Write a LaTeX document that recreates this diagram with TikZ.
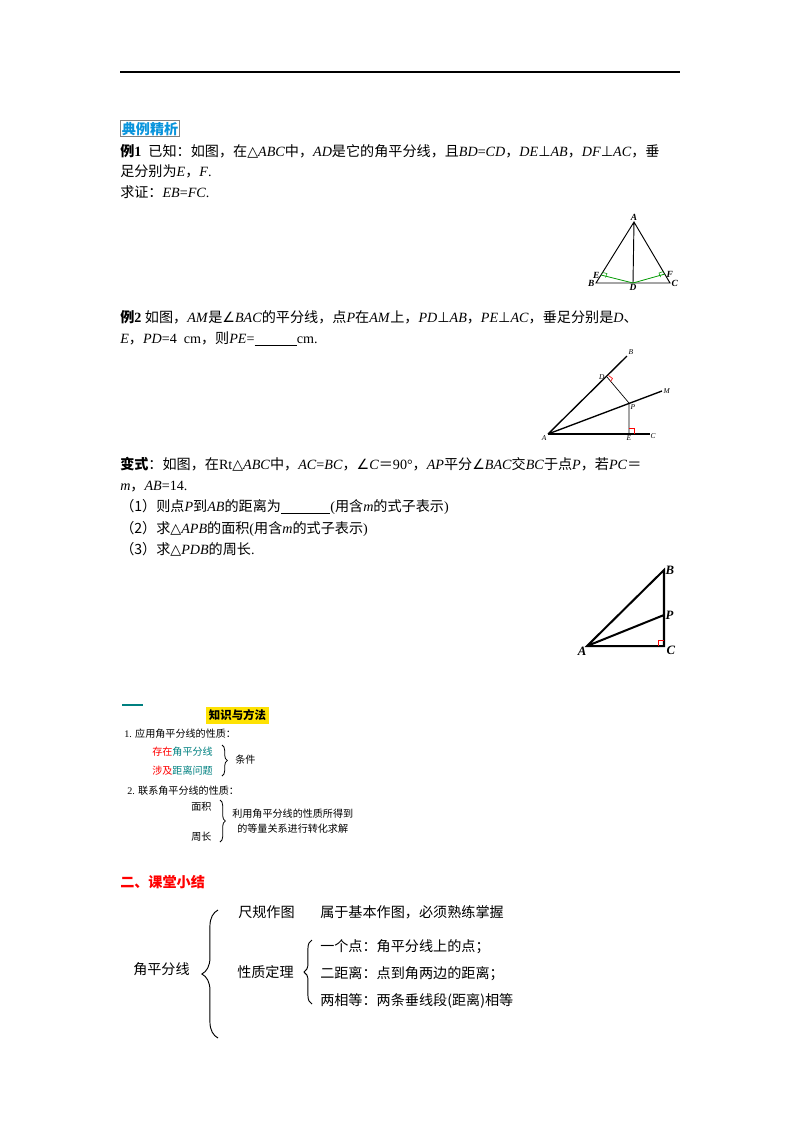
\documentclass[tikz,border=0pt]{standalone}
\usepackage{fontspec}
\setmainfont{Liberation Serif}
\newfontfamily\cjk{Noto Sans CJK SC}
\newfontfamily\symf{DejaVu Sans}
\newcommand{\tri}{{\symf △}}
\newcommand{\ang}{{\symf ∠}}
\newcommand{\perpx}{{\symf ⊥}}
\usetikzlibrary{decorations.pathreplacing}
\begin{document}
\begin{tikzpicture}[x=0.744pt,y=-0.744pt,
  txt/.style={anchor=base west,inner sep=0,font=\fontsize{10.5}{12}\selectfont},
  sm/.style={anchor=base west,inner sep=0,font=\fontsize{7.5}{9}\selectfont},
  lab/.style={inner sep=1pt,font=\fontsize{7}{8}\selectfont\bfseries\itshape},
  lab2/.style={inner sep=1pt,font=\fontsize{5.5}{6}\selectfont\itshape},
  ra/.style={red,line width=0.5pt}]
\useasboundingbox (0,0) rectangle (800,1132);
\draw[line width=0.8pt] (120,72) -- (680,72);
% heading box
\node[draw=gray,line width=0.8pt,inner sep=1pt,anchor=north west,font=\fontsize{10.5}{12}\selectfont\cjk\bfseries,text=cyan!80!blue] (hd) at (120,120) {典例精析};
\node[txt] (l1) at (120,156) {{\cjk\bfseries 例}\textbf{1} \ {\cjk 已知：如图，在}\tri\textit{ABC}{\cjk 中，}\textit{AD}{\cjk 是它的角平分线，且}\textit{BD}=\textit{CD}{\cjk ，}\textit{DE}\perpx\textit{AB}{\cjk ，}\textit{DF}\perpx\textit{AC}{\cjk ，垂}};
\node[txt] (l2) at (120,176) {{\cjk 足分别为}\textit{E}{\cjk ，}\textit{F}.};
\node[txt] (l3) at (120,197) {{\cjk 求证：}\textit{EB}=\textit{FC}.};
% figure 1
\coordinate (A1) at (634,222); \coordinate (B1) at (596,283); \coordinate (C1) at (670,283); \coordinate (D1) at (633,283);
\coordinate (E1) at (601,275); \coordinate (F1) at (665,274);
\draw[line width=0.7pt] (A1)--(B1)--(C1)--cycle (A1)--(D1);
\draw[green!60!black,line width=0.6pt] (E1)--(D1)--(F1);
\draw[green!60!black,line width=0.4pt] (602.5,272.5)--(607,273.5)--(605.5,277.5);
\draw[green!60!black,line width=0.4pt] (663.5,271.5)--(659,273)--(660.5,277);
\node[lab,above] (lA1) at (A1) {A};
\node[lab,left] (lB1) at (B1) {B};
\node[lab,right] (lC1) at (C1) {C};
\node[lab,below] (lD1) at (D1) {D};
\node[lab,left] (lE1) at (E1) {E};
\node[lab,right] (lF1) at (F1) {F};
% example 2
\node[txt] (m1) at (120,322) {{\cjk\bfseries 例}\textbf{2} {\cjk 如图，}\textit{AM}{\cjk 是}\ang\textit{BAC}{\cjk 的平分线，点}\textit{P}{\cjk 在}\textit{AM}{\cjk 上，}\textit{PD}\perpx\textit{AB}{\cjk ，}\textit{PE}\perpx\textit{AC}{\cjk ，垂足分别是}\textit{D}{\cjk 、}};
\node[txt] (m2) at (120,343) {\textit{E}{\cjk ，}\textit{PD}=4\ \ cm{\cjk ，则}\textit{PE}=\underline{\hspace{3em}}cm.};
\coordinate (A2) at (548,434); \coordinate (B2) at (627,356); \coordinate (M2) at (662,391);
\coordinate (C2) at (650,434); \coordinate (D2) at (607,377); \coordinate (P2) at (629,403); \coordinate (E2) at (629,434);
\draw[line width=1pt] (A2)--(B2) (A2)--(M2);
\draw[line width=1.4pt] (A2)--(C2);
\draw[line width=0.5pt] (D2)--(P2)--(E2);
\draw[ra] (608.5,375.5)--(612.5,378.5)--(610.5,381.5);
\draw[ra] (629,428)--(634,428)--(634,434);
\node[lab2,above right] (lB2) at (B2) {B};
\node[lab2,right] (lM2) at (M2) {M};
\node[lab2,below right] (lC2) at (649,432) {C};
\node[lab2,left] (lD2) at (606,377) {D};
\node[lab2,right] (lP2) at (629,407) {P};
\node[lab2,below] (lE2) at (E2) {E};
\node[lab2,below left] (lA2) at (A2) {A};
% variant
\node[txt] (v1) at (120,469) {{\cjk\bfseries 变式}{\cjk ：如图，在}Rt\tri\textit{ABC}{\cjk 中，}\textit{AC}=\textit{BC}{\cjk ，}\ang\textit{C}{\cjk ＝}90°{\cjk ，}\textit{AP}{\cjk 平分}\ang\textit{BAC}{\cjk 交}\textit{BC}{\cjk 于点}\textit{P}{\cjk ，若}\textit{PC}{\cjk ＝}};
\node[txt] (v2) at (120,490) {\textit{m}{\cjk ，}\textit{AB}=14.};
\node[txt] (v3) at (120,511) {{\cjk （1）则点}\textit{P}{\cjk 到}\textit{AB}{\cjk 的距离为}\underline{\hspace{3.5em}}({\cjk 用含}\textit{m}{\cjk 的式子表示})};
\node[txt] (v4) at (120,533) {{\cjk （2）求}\tri\textit{APB}{\cjk 的面积}({\cjk 用含}\textit{m}{\cjk 的式子表示})};
\node[txt] (v5) at (120,554) {{\cjk （3）求}\tri\textit{PDB}{\cjk 的周长}.};
\coordinate (A3) at (587,646); \coordinate (B3) at (664,570); \coordinate (C3) at (664,646); \coordinate (P3) at (664,615);
\draw[line width=1.5pt] (A3)--(B3)--(C3)--cycle (A3)--(P3);
\draw[ra] (664,640)--(658,640)--(658,646);
\node[lab,right,font=\fontsize{9.5}{10}\selectfont\bfseries\itshape] (lB3) at (B3) {B};
\node[lab,right,font=\fontsize{9.5}{10}\selectfont\bfseries\itshape] (lP3) at (P3) {P};
\node[lab,right,font=\fontsize{9.5}{10}\selectfont\bfseries\itshape] (lC3) at (665,650) {C};
\node[lab,left,font=\fontsize{9.5}{10}\selectfont\bfseries\itshape] (lA3) at (588,651) {A};
% knowledge
\draw[teal,line width=1pt] (122,705)--(143,705);
\node[fill=yellow!85!orange,inner sep=2pt,anchor=north west,font=\fontsize{8.5}{10}\selectfont\cjk\bfseries] (kb) at (206,707) {知识与方法};
\node[sm] (k1) at (124,737) {1. {\cjk 应用角平分线的性质：}};
\node[sm] (k2) at (152,755) {{\cjk\color{red}存在}{\cjk\color{teal}角平分线}};
\node[sm] (k3) at (152,774) {{\cjk\color{red}涉及}{\cjk\color{teal}距离问题}};
\draw[decorate,decoration={brace,amplitude=4pt},line width=0.6pt] (222,745)--(222,776);
\node[sm] (k4) at (235,763) {\cjk 条件};
\node[sm] (k5) at (127,794) {2. {\cjk 联系角平分线的性质：}};
\node[sm] (k6) at (191,810) {\cjk 面积};
\node[sm] (k7) at (191,840) {\cjk 周长};
\draw[decorate,decoration={brace,amplitude=4pt},line width=0.6pt] (220,800)--(220,842);
\node[sm] (k8) at (232,817) {\cjk 利用角平分线的性质所得到};
\node[sm] (k9) at (237,832) {\cjk 的等量关系进行转化求解};
% summary
\node[txt,text=red,font=\fontsize{10.5}{12}\selectfont\cjk\bfseries] (s0) at (120,887) {二、课堂小结};
\draw[decorate,decoration={brace,amplitude=12pt,mirror},line width=0.7pt] (218,910)--(218,1038);
\node[txt,font=\fontsize{10.5}{12}\selectfont\cjk] (s1) at (133,974) {角平分线};
\node[txt,font=\fontsize{10.5}{12}\selectfont\cjk] (s2) at (238,917) {尺规作图};
\node[txt,font=\fontsize{10.5}{12}\selectfont\cjk] (s3) at (320,917) {属于基本作图，必须熟练掌握};
\node[txt,font=\fontsize{10.5}{12}\selectfont\cjk] (s4) at (237,977) {性质定理};
\draw[decorate,decoration={brace,amplitude=6pt,mirror},line width=0.7pt] (312,940)--(312,1004);
\node[txt,font=\fontsize{10.5}{12}\selectfont\cjk] (s5) at (320,951) {一个点：角平分线上的点；};
\node[txt,font=\fontsize{10.5}{12}\selectfont\cjk] (s6) at (320,978) {二距离：点到角两边的距离；};
\node[txt,font=\fontsize{10.5}{12}\selectfont\cjk] (s7) at (320,1005) {两相等：两条垂线段(距离)相等};
\end{tikzpicture}
\end{document}
